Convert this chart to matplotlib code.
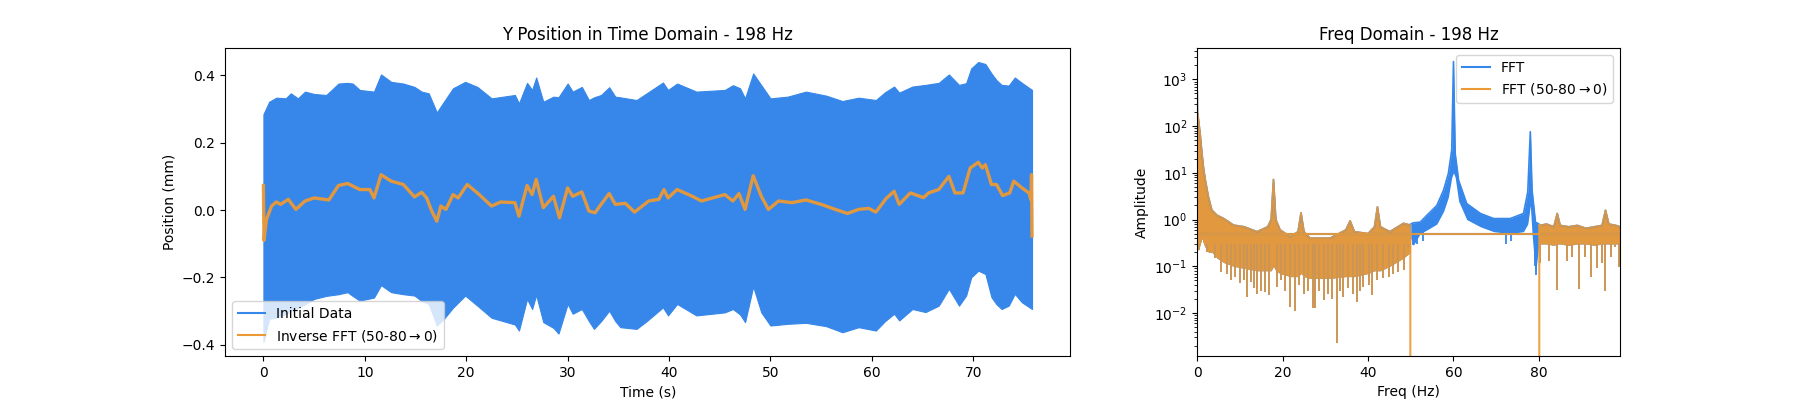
import numpy as np
import matplotlib
matplotlib.use("Agg")
from matplotlib import pyplot as plt
from matplotlib.lines import Line2D

# ---- time domain: envelope of the raw 198 Hz signal (mm) ----
env_t = [0, 0.57, 1.27, 2.2, 2.7, 3.4, 4.1, 5.0, 6.2, 7.4, 8.3, 8.8, 9.5, 10.9,
         11.6, 12.6, 13.8, 14.9, 15.6, 16.3, 17.1, 17.8, 18.7, 19.9, 21.1, 22.5,
         24.8, 25.2, 26.0, 26.5, 26.9, 27.6, 28.6, 29.1, 30.0, 30.5, 31.4, 32.1,
         32.6, 33.3, 34.1, 34.7, 35.2, 36.8, 37.8, 39.4, 39.9, 40.8, 42.7, 45.5,
         46.3, 47.0, 47.5, 48.3, 49.1, 50.0, 51.7, 53.5, 55.5, 57.1, 58.7, 60.4,
         61.3, 62.2, 62.7, 64.0, 65.3, 66.6, 67.6, 68.6, 69.3, 69.8, 70.5, 71.2,
         71.8, 72.3, 72.8, 73.5, 74.1, 74.8, 75.8]
env_top = [0.285, 0.322, 0.334, 0.332, 0.347, 0.332, 0.352, 0.345, 0.342, 0.376,
           0.378, 0.376, 0.357, 0.352, 0.403, 0.381, 0.376, 0.366, 0.352, 0.347,
           0.290, 0.322, 0.362, 0.381, 0.366, 0.332, 0.342, 0.317, 0.378, 0.357,
           0.394, 0.322, 0.337, 0.335, 0.376, 0.352, 0.366, 0.327, 0.335, 0.342,
           0.365, 0.337, 0.335, 0.327, 0.347, 0.379, 0.357, 0.376, 0.352, 0.357,
           0.371, 0.362, 0.332, 0.406, 0.371, 0.332, 0.337, 0.352, 0.340, 0.324,
           0.334, 0.327, 0.350, 0.367, 0.349, 0.367, 0.372, 0.378, 0.403, 0.372,
           0.377, 0.421, 0.440, 0.434, 0.406, 0.386, 0.372, 0.370, 0.394, 0.378,
           0.357]
env_bot = [-0.392, -0.323, -0.320, -0.308, -0.300, -0.290, -0.280, -0.264, -0.255,
           -0.250, -0.244, -0.255, -0.269, -0.260, -0.223, -0.244, -0.250, -0.254,
           -0.270, -0.279, -0.343, -0.323, -0.290, -0.254, -0.284, -0.320, -0.340,
           -0.358, -0.264, -0.294, -0.252, -0.333, -0.350, -0.367, -0.279, -0.308,
           -0.294, -0.330, -0.353, -0.330, -0.299, -0.330, -0.348, -0.353, -0.330,
           -0.289, -0.313, -0.279, -0.313, -0.304, -0.294, -0.310, -0.333, -0.227,
           -0.304, -0.343, -0.338, -0.335, -0.345, -0.363, -0.348, -0.358, -0.330,
           -0.308, -0.328, -0.294, -0.303, -0.284, -0.234, -0.284, -0.254, -0.200,
           -0.180, -0.190, -0.259, -0.280, -0.294, -0.284, -0.249, -0.274, -0.294]

# inverse FFT with 50-80 Hz removed
ifft_t = [0, 0.05, 0.3, 0.8, 1.27, 1.7, 2.45, 3.2, 4.1, 5.0, 6.45, 7.4, 8.3, 9.5,
          10.5, 10.9, 11.6, 12.6, 13.8, 14.9, 15.6, 16.1, 16.6, 17.1, 17.5, 18.0,
          18.7, 19.2, 20.1, 21.1, 22.5, 23.4, 24.8, 25.2, 26.0, 26.5, 26.9, 27.6,
          28.6, 29.2, 30.0, 30.5, 31.4, 32.1, 32.7, 33.3, 34.1, 34.7, 35.7, 36.6,
          38.0, 39.0, 39.5, 39.9, 40.8, 42.3, 43.2, 45.5, 46.3, 46.9, 47.5, 48.3,
          49.1, 49.8, 50.8, 52.1, 53.5, 55.0, 56.4, 57.6, 58.7, 59.7, 60.4, 61.4,
          62.2, 62.7, 63.8, 65.1, 65.6, 66.6, 67.6, 68.2, 69.0, 69.7, 70.5, 70.9,
          71.2, 71.8, 72.3, 72.9, 73.6, 74.0, 74.8, 75.5, 75.7, 75.75, 75.8]
ifft_y = [0.073, -0.090, -0.028, 0.012, 0.024, 0.017, 0.032, 0.002, 0.027, 0.036,
          0.030, 0.073, 0.079, 0.061, 0.061, 0.036, 0.105, 0.086, 0.076, 0.039,
          0.053, 0.036, -0.003, -0.033, 0.012, 0.002, 0.046, 0.036, 0.076, 0.051,
          0.012, 0.024, 0.022, -0.018, 0.073, 0.046, 0.091, 0.007, 0.041, -0.023,
          0.066, 0.041, 0.054, -0.003, -0.008, 0.017, 0.049, 0.017, 0.020, -0.006,
          0.027, 0.032, 0.061, 0.036, 0.061, 0.041, 0.027, 0.046, 0.027, 0.049,
          0.002, 0.102, 0.041, 0.002, 0.027, 0.022, 0.030, 0.017, 0.002, -0.010,
          0.002, 0.005, -0.006, 0.034, 0.056, 0.017, 0.051, 0.037, 0.051, 0.061,
          0.100, 0.051, 0.051, 0.125, 0.142, 0.125, 0.135, 0.076, 0.076, 0.043,
          0.051, 0.086, 0.066, 0.051, 0.030, 0.105, -0.077]

# ---- frequency domain (amplitude, log scale) ----
# 0-50 Hz band (same for both spectra)
low_f = [0, 0.05, 0.3, 0.7, 1.1, 1.5, 1.9, 2.6, 3.4, 4.6, 6.2, 8.5, 11, 14, 16.5,
         17.3, 17.85, 18.4, 19.4, 21.8, 23.6, 24.3, 25.0, 26.4, 31.1, 34.8, 35.8,
         36.8, 40.0, 41.5, 42.2, 42.9, 45.1, 48.3, 49.9]
low_hi = [540, 200, 135, 65, 26, 12, 6.9, 3.1, 1.6, 1.24, 1.05, 0.76, 0.70, 0.55,
          0.70, 1.0, 7.2, 1.0, 0.60, 0.43, 0.55, 1.39, 0.55, 0.40, 0.40, 0.60, 0.94,
          0.55, 0.50, 0.70, 1.87, 0.70, 0.55, 0.83, 0.76]
low_lo = [0.30, 0.25, 0.22, 0.30, 0.40, 0.30, 0.25, 0.20, 0.20, 0.15, 0.12, 0.10,
          0.09, 0.08, 0.08, 0.08, 0.10, 0.08, 0.07, 0.06, 0.06, 0.07, 0.06, 0.055,
          0.055, 0.06, 0.06, 0.06, 0.07, 0.08, 0.08, 0.08, 0.10, 0.15, 0.20]
low_dip_f = [0.3, 2.3, 4.2, 5.5, 7.0, 7.8, 8.8, 10.1, 11.0, 11.6, 12.5, 13.2, 14.0,
             15.0, 15.8, 16.7, 18.6, 19.5, 20.5, 21.8, 22.8, 23.8, 24.9, 26.0, 27.0,
             27.6, 28.5, 29.6, 30.5, 31.5, 32.7, 33.5, 34.2, 35.2, 36.5, 37.3, 38.2,
             38.9, 40.2, 40.9, 42.0, 43.6, 44.8, 45.9, 47.0, 48.3, 49.4]
low_dip_a = [0.22, 0.20, 0.15, 0.075, 0.07, 0.05, 0.06, 0.043, 0.05, 0.022, 0.045,
             0.035, 0.026, 0.03, 0.028, 0.024, 0.036, 0.05, 0.03, 0.0135, 0.011,
             0.04, 0.026, 0.03, 0.0125, 0.0125, 0.03, 0.019, 0.025, 0.02, 0.0023,
             0.03, 0.022, 0.035, 0.025, 0.017, 0.03, 0.036, 0.04, 0.024, 0.05, 0.055,
             0.06, 0.07, 0.075, 0.083, 0.26]

# 50-80 Hz band (only in the raw FFT)
mid_f = [50.0, 50.6, 52.2, 53.8, 56.1, 57.7, 58.8, 59.6, 60.0, 60.4, 61.2, 63.1,
         66.3, 69.4, 73.3, 76.4, 77.4, 78.0, 78.4, 79.2, 80.0]
mid_hi = [0.80, 0.85, 0.88, 1.24, 2.0, 4.3, 9.7, 31, 2400, 26, 6.9, 2.2, 1.35, 1.05,
          1.05, 1.35, 3.9, 76, 4.3, 0.88, 0.80]
mid_lo = [0.40, 0.28, 0.50, 0.60, 0.80, 1.5, 3.0, 8.0, 10, 8.0, 2.5, 1.0, 0.70, 0.55,
          0.50, 0.55, 0.80, 2.0, 0.50, 0.065, 0.30]
mid_dip_f = [50.6, 51.5, 52.8, 72.3, 73.5, 79.0, 79.4]
mid_dip_a = [0.28, 0.30, 0.35, 0.30, 0.35, 0.10, 0.065]

# 80-99 Hz band (same for both spectra)
high_f = [80.0, 80.3, 81.8, 83.5, 84.3, 85.0, 87, 89, 91, 93, 94.8, 95.6, 96.4, 98,
          99.0]
high_hi = [0.75, 0.75, 0.80, 0.70, 1.35, 0.75, 0.70, 0.75, 0.65, 0.70, 0.75, 1.58,
           0.80, 0.75, 0.70]
high_lo = [0.30, 0.30, 0.30, 0.28, 0.30, 0.30, 0.28, 0.30, 0.30, 0.28, 0.30, 0.30,
           0.30, 0.30, 0.30]
high_dip_f = [80.3, 82.3, 84.3, 86.5, 87.7, 89.4, 90.8, 92.1, 93.5, 94.7, 95.6, 96.9,
              97.8, 98.8]
high_dip_a = [0.115, 0.13, 0.031, 0.13, 0.16, 0.033, 0.16, 0.059, 0.09, 0.115, 0.03,
              0.16, 0.26, 0.098]

# edges of the zeroed band and the wrap-around segment (Nyquist -> -Nyquist)
cut_f = [49.9, 50.0, 80.0, 80.1]
cut_a = [0.50, 0.0, 0.0, 0.75]
nyquist = 99.0
wrap_a = 0.48

BLUE = '#3687e9'
ORANGE = '#eb9935'

fig, (ax1, ax2) = plt.subplots(1, 2, figsize=(18, 4), dpi=100,
                               gridspec_kw={'width_ratios': [2, 1]})

# Time domain
ax1.fill_between(env_t, env_bot, env_top, color=BLUE, linewidth=0.8, edgecolor=BLUE)
ax1.plot(ifft_t, ifft_y, color=ORANGE, linewidth=2.4, alpha=0.95)
ax1.set_title('Y Position in Time Domain - 198 Hz')
ax1.set_xlabel('Time (s)')
ax1.set_ylabel('Position (mm)')
ax1.set_yticks([-0.4, -0.2, 0.0, 0.2, 0.4])
ax1.legend(handles=[Line2D([], [], color=BLUE, linewidth=1.5),
                    Line2D([], [], color=ORANGE, linewidth=1.5)],
           labels=['Initial Data', 'Inverse FFT (50-80$\\rightarrow$0)'],
           loc='lower left')

# Frequency domain - raw FFT underneath
for f, lo, hi in [(low_f, low_lo, low_hi), (mid_f, mid_lo, mid_hi),
                  (high_f, high_lo, high_hi)]:
    ax2.fill_between(f, lo, hi, color=BLUE, linewidth=0)
    ax2.plot(f, hi, color=BLUE, linewidth=1.2)
ax2.vlines(low_dip_f, low_dip_a, 0.3, color=BLUE, linewidth=1.3)
ax2.vlines(mid_dip_f, mid_dip_a, 0.6, color=BLUE, linewidth=1.3)
ax2.vlines(high_dip_f, high_dip_a, 0.3, color=BLUE, linewidth=1.3)
ax2.plot([nyquist, -nyquist], [wrap_a, wrap_a], color=BLUE, linewidth=1.5)

# filtered FFT on top
for f, lo, hi in [(low_f, low_lo, low_hi), (high_f, high_lo, high_hi)]:
    ax2.fill_between(f, lo, hi, color=ORANGE, linewidth=0, alpha=0.95)
    ax2.plot(f, hi, color=ORANGE, linewidth=1.2, alpha=0.9)
for df, da in [(low_dip_f, low_dip_a), (high_dip_f, high_dip_a)]:
    ax2.vlines(df, da, 0.3, color=ORANGE, linewidth=1.3, alpha=0.9)
ax2.plot(cut_f, cut_a, color=ORANGE, linewidth=1.5, alpha=0.9)
ax2.plot([nyquist, -nyquist], [wrap_a, wrap_a], color=ORANGE, linewidth=1.5, alpha=0.9)

ax2.set_yscale('log')
ax2.set_xlim(0, nyquist)
ax2.set_ylim(0.0012, 4700)
ax2.set_xticks([0, 20, 40, 60, 80])
ax2.set_title('Freq Domain - 198 Hz')
ax2.set_xlabel('Freq (Hz)')
ax2.set_ylabel('Amplitude')
ax2.legend(handles=[Line2D([], [], color=BLUE, linewidth=1.5),
                    Line2D([], [], color=ORANGE, linewidth=1.5)],
           labels=['FFT', 'FFT (50-80$\\rightarrow$0)'], loc='upper right')

fig.savefig('out.png')
